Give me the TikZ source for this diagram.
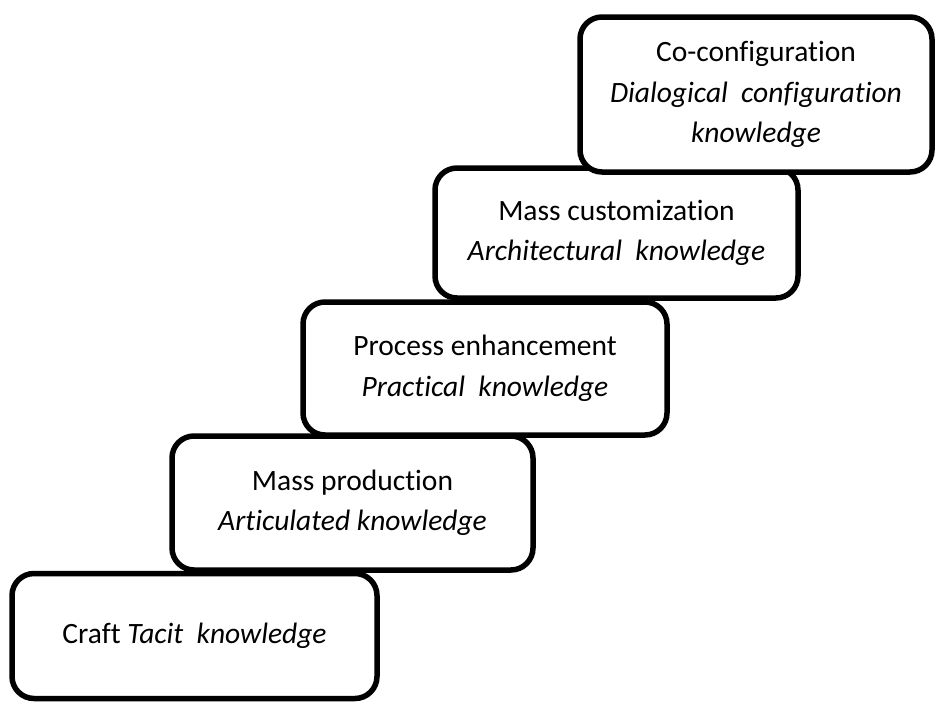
\documentclass[tikz,border=0pt]{standalone}
\usepackage{fontspec}
\setmainfont[Ligatures={NoCommon}]{Carlito}
\begin{document}
\begin{tikzpicture}[x=1pt,y=-1pt,
  stage/.style={draw=black, line width=5.5pt, fill=white, rounded corners=22pt,
    rectangle, align=center, inner sep=0pt,
    font=\fontsize{29.5}{40.5}\selectfont}]
\useasboundingbox (0,0) rectangle (935,705);
% stages, drawn from the lowest step up
\node[stage, minimum width=365pt, minimum height=125pt] (craft) at (194.5,636)
  {Craft \textit{Tacit\hspace{0.45em}knowledge}};
\node[stage, minimum width=361pt, minimum height=134pt] (mprod) at (352.5,503)
  {Mass production\\ \textit{Articulated knowledge}};
\node[stage, minimum width=364pt, minimum height=133pt] (penh) at (485,368.5)
  {Process enhancement\\ \textit{Practical\hspace{0.45em}knowledge}};
\node[stage, minimum width=363pt, minimum height=130pt] (mcust) at (616.5,233)
  {Mass customization\\ \textit{Architectural\hspace{0.45em}knowledge}};
\node[stage, minimum width=352pt, minimum height=155pt] (cocfg) at (756,94.5)
  {Co-configuration\\ \textit{Dialogical\hspace{0.45em}configuration}\\ \textit{knowledge}};
\end{tikzpicture}
\end{document}
